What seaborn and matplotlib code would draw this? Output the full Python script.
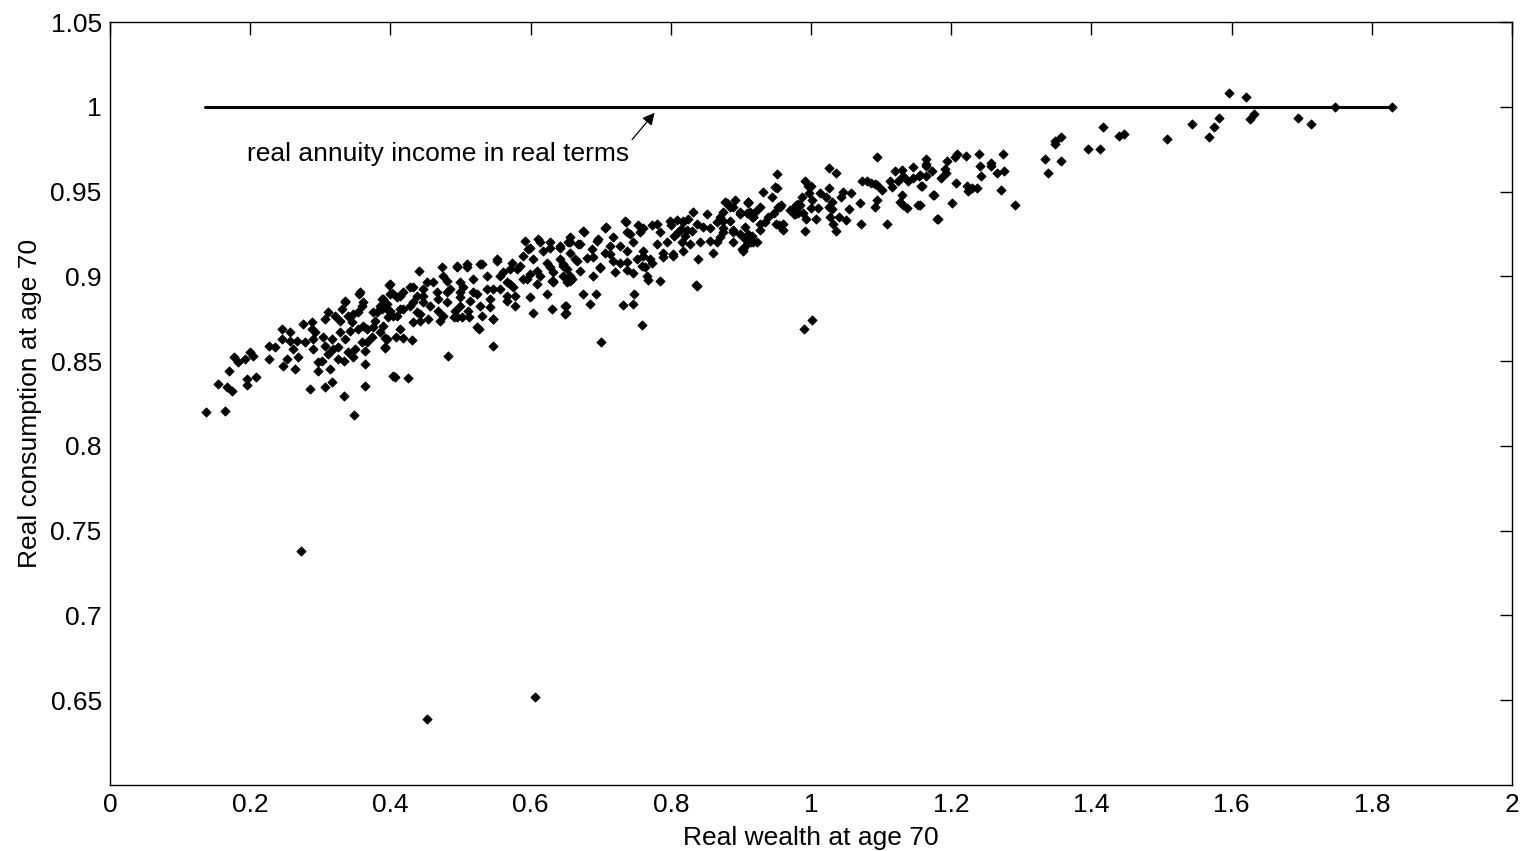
import matplotlib
matplotlib.use("Agg")
import matplotlib.pyplot as plt
import seaborn as sns
import numpy as np
import pandas as pd

# ---- data ----
wealth_a = [0.137,0.164,0.154,0.167,0.174,0.170,0.195,0.195,0.208,0.177,0.183,0.193,0.200,0.204,0.227,0.227,0.235,0.247,0.252,0.261,0.264,0.245,0.245,0.257,0.257,0.267,0.278,0.285,0.268,0.290,0.290,0.307,0.317,0.297,0.302,0.314,0.311,0.307,0.292,0.304,0.317,0.318,0.325,0.325,0.334,0.339,0.346,0.350,0.334,0.348,0.364,0.364,0.288,0.275,0.288,0.311,0.307,0.321,0.331,0.335,0.339,0.354,0.359,0.345,0.354,0.359,0.328,0.335,0.342,0.367,0.375,0.374,0.367,0.378,0.381,0.388,0.397,0.395,0.399,0.398,0.355,0.364,0.297,0.407,0.392,0.395,0.385,0.272]
cons_a = [0.820,0.8206,0.8365,0.8347,0.8324,0.844,0.8394,0.8359,0.8406,0.8524,0.8494,0.8512,0.8553,0.853,0.8512,0.8588,0.8582,0.847,0.8512,0.857,0.8453,0.8688,0.8629,0.867,0.8618,0.8618,0.8612,0.8335,0.8524,0.857,0.8629,0.8347,0.8376,0.8494,0.85,0.8453,0.8541,0.8588,0.867,0.8641,0.8629,0.857,0.8582,0.8512,0.85,0.8553,0.8524,0.857,0.8294,0.8182,0.8482,0.8353,0.8688,0.8718,0.873,0.8788,0.8747,0.8765,0.8806,0.8847,0.8765,0.8788,0.8824,0.873,0.8688,0.8612,0.867,0.8629,0.8676,0.8688,0.87,0.8641,0.8612,0.8735,0.8788,0.8806,0.8759,0.8835,0.8894,0.8947,0.8894,0.8559,0.844,0.8406,0.8582,0.8629,0.867,0.738]

wealth_b = [0.441,0.402,0.392,0.392,0.404,0.425,0.482,0.546,0.526,0.546,0.512,0.491,0.502,0.603,0.631,0.650,0.650,0.578,0.566,0.542,0.531,0.431,0.418,0.408,0.414,0.432,0.442,0.454,0.468,0.475,0.492,0.510,0.499,0.468,0.447,0.438,0.428,0.414,0.404,0.399,0.495,0.509,0.473,0.528,0.552,0.592,0.613,0.596,0.628,0.656,0.656,0.642,0.623,0.603,0.585,0.571,0.556,0.538,0.518,0.499,0.481,0.461,0.447,0.432,0.418,0.409,0.389,0.385,0.481,0.499,0.518,0.538,0.556,0.575,0.595,0.613,0.632,0.652,0.632,0.578,0.599,0.623,0.631,0.566,0.514,0.528,0.542,0.652,0.659,0.452,0.606]
cons_b = [0.903,0.890,0.8576,0.8635,0.841,0.840,0.853,0.859,0.869,0.8747,0.876,0.876,0.876,0.8782,0.8806,0.8824,0.8782,0.8824,0.8853,0.8818,0.8765,0.8624,0.8635,0.8641,0.8688,0.873,0.8776,0.8747,0.8794,0.8765,0.8794,0.8794,0.8824,0.8865,0.8847,0.8882,0.8824,0.8806,0.8765,0.8794,0.9053,0.9053,0.9053,0.907,0.9088,0.9206,0.920,0.9159,0.917,0.920,0.914,0.910,0.908,0.910,0.9059,0.9041,0.900,0.900,0.8982,0.8965,0.897,0.8965,0.8923,0.894,0.8906,0.8876,0.8865,0.8824,0.8906,0.8906,0.8906,0.8923,0.8923,0.894,0.8982,0.900,0.9023,0.9041,0.8965,0.8882,0.8876,0.8894,0.897,0.8965,0.8853,0.8824,0.8865,0.8965,0.8982,0.639,0.652]

wealth_c = [0.880,0.884,0.910,0.917,0.910,0.914,0.903,0.860,0.839,0.836,0.785,0.770,0.773,0.753,0.736,0.708,0.676,0.656,0.832,0.852,0.809,0.810,0.823,0.803,0.817,0.789,0.760,0.752,0.773,0.767,0.759,0.746,0.737,0.728,0.718,0.713,0.706,0.699,0.689,0.693,0.685,0.675,0.748,0.746,0.732,0.759,0.700,0.649,0.649,0.656,0.670,0.680,0.663,0.646,0.642,0.646,0.653,0.668,0.688,0.696,0.728,0.746,0.737,0.756,0.785,0.795,0.780,0.817,0.830,0.846,0.866,0.874,0.889,0.842,0.866,0.889,0.816,0.800,0.815,0.825,0.820,0.805]
cons_c = [0.9435,0.941,0.9435,0.935,0.9247,0.920,0.916,0.914,0.910,0.8947,0.897,0.910,0.930,0.930,0.932,0.929,0.926,0.923,0.938,0.9365,0.9335,0.926,0.9276,0.912,0.9147,0.914,0.912,0.910,0.908,0.898,0.906,0.902,0.904,0.908,0.909,0.918,0.914,0.905,0.900,0.8894,0.8835,0.8894,0.8894,0.8835,0.883,0.8712,0.861,0.8824,0.878,0.897,0.903,0.911,0.910,0.906,0.918,0.900,0.920,0.919,0.916,0.922,0.918,0.920,0.926,0.926,0.926,0.920,0.919,0.932,0.9265,0.929,0.932,0.926,0.9276,0.920,0.920,0.920,0.920,0.930,0.928,0.934,0.924,0.924]

wealth_d = [0.951,1.026,1.036,0.991,0.996,1.000,0.997,1.026,1.013,0.987,1.001,0.984,0.979,0.973,0.976,0.981,0.989,1.000,1.010,1.007,0.993,0.991,1.021,1.026,1.030,1.030,1.027,1.040,1.031,1.036,1.050,1.054,1.046,1.057,1.043,1.070,1.071,1.073,1.080,1.086,1.091,1.094,1.101,1.094,1.091,1.108,1.113,1.116,1.120,1.130,1.124,1.131,1.146,1.138,1.146,1.154,1.158,1.164,1.173,1.175,1.180,1.130,1.127,1.131,1.137,1.153,0.951,0.944,0.932,0.927,0.957,0.953,0.947,0.939,0.934,0.927,0.927,0.950,0.954,0.960,0.910,0.920,0.909,0.916,0.899,0.906,0.916,0.909,0.923,0.903,0.899,1.094,0.990,1.001]
cons_d = [0.9606,0.964,0.961,0.9565,0.9535,0.9535,0.949,0.952,0.949,0.9465,0.945,0.942,0.942,0.939,0.9365,0.9375,0.9375,0.9405,0.9405,0.934,0.934,0.9265,0.9465,0.941,0.944,0.9395,0.935,0.935,0.9306,0.927,0.933,0.9395,0.950,0.949,0.9465,0.9435,0.9306,0.956,0.9565,0.955,0.9547,0.954,0.951,0.945,0.941,0.9306,0.956,0.9524,0.962,0.963,0.9565,0.959,0.9647,0.9565,0.958,0.959,0.953,0.966,0.962,0.948,0.934,0.948,0.944,0.942,0.9405,0.942,0.952,0.9465,0.950,0.941,0.942,0.941,0.9376,0.935,0.932,0.9306,0.9276,0.931,0.930,0.9276,0.944,0.938,0.9376,0.935,0.938,0.929,0.9235,0.919,0.920,0.915,0.9247,0.9706,0.869,0.874]

wealth_e = [1.395,1.412,1.357,1.348,1.348,1.334,1.357,1.338,1.291,1.274,1.275,1.271,1.265,1.257,1.257,1.240,1.241,1.243,1.221,1.208,1.205,1.194,1.191,1.193,1.185,1.164,1.164,1.164,1.156,1.157,1.207,1.222,1.224,1.229,1.237,1.174,1.201,1.181,1.156,1.417,1.439,1.447,1.508,1.543,1.568,1.575,1.582,1.596,1.620,1.626,1.632,1.695,1.713,1.747,1.829]
cons_e = [0.975,0.975,0.982,0.980,0.978,0.969,0.968,0.961,0.942,0.972,0.962,0.951,0.961,0.967,0.965,0.972,0.965,0.959,0.971,0.972,0.9705,0.968,0.9635,0.961,0.958,0.969,0.965,0.959,0.960,0.953,0.955,0.9535,0.9505,0.952,0.952,0.948,0.9435,0.934,0.942,0.988,0.983,0.984,0.981,0.990,0.982,0.988,0.9935,1.008,1.006,0.993,0.996,0.9935,0.990,1.000,1.000]

# extra points of the dense core
wealth_f = [0.399,0.357,0.335,0.361,0.388,0.414,0.428,0.452,0.475,0.495,0.509,0.531,0.552,0.573,0.589,0.560,0.504,0.485,0.466,0.447,0.432,0.418,0.395,0.375,0.347,0.328,0.409,0.438,0.456,0.481,0.499,0.524,0.546,0.571,0.589,0.581,0.566,0.546,0.524,0.495,0.471,0.442,0.389,0.361,
            0.735,0.706,0.675,0.628,0.611,0.599,0.618,0.642,0.670,0.695,0.718,0.742,0.761,0.780,0.799,0.817,0.837,0.856,0.874,0.856,0.827,0.803,0.789,0.761,0.737,0.713,0.689,0.666,0.646,0.628,0.609,0.599,0.699,0.720,0.763,0.737,0.766,0.837,0.656,0.632,0.609,
            0.949,0.910,0.892,0.877,0.874,0.889,0.899,0.913,0.917,0.884,0.870,0.874,0.889,0.870,0.956,0.970,0.977,0.981,0.960,0.906,0.917,0.902]
cons_f = [0.8953,0.8906,0.8853,0.8847,0.8865,0.8882,0.894,0.8965,0.900,0.906,0.907,0.907,0.910,0.908,0.9118,0.9024,0.894,0.8924,0.8906,0.8882,0.8847,0.8806,0.8806,0.8788,0.8776,0.8735,0.8765,0.8788,0.8824,0.8847,0.8876,0.8894,0.8924,0.8953,0.8982,0.9041,0.8882,0.8747,0.870,0.876,0.8735,0.8735,0.8706,0.8706,
          0.9324,0.9288,0.9265,0.920,0.9218,0.917,0.9147,0.917,0.9188,0.9206,0.923,0.9247,0.9288,0.9306,0.9324,0.9324,0.9306,0.9288,0.9324,0.9206,0.9188,0.913,0.9112,0.9147,0.9147,0.913,0.9112,0.9088,0.907,0.9053,0.903,0.9012,0.9053,0.9024,0.9053,0.9082,0.900,0.8941,0.900,0.897,0.8953,
          0.9524,0.944,0.9453,0.9441,0.9382,0.9406,0.9365,0.9382,0.9347,0.9324,0.9347,0.9288,0.9259,0.923,0.9406,0.9394,0.9365,0.9424,0.9306,0.9218,0.920,0.9159]

annuity_x = [0.135, 1.83]
annuity_y = [1.0, 1.0]

x_ticks = [0, 0.2, 0.4, 0.6, 0.8, 1.0, 1.2, 1.4, 1.6, 1.8, 2.0]
x_labels = ["0", "0.2", "0.4", "0.6", "0.8", "1", "1.2", "1.4", "1.6", "1.8", "2"]
y_ticks = [0.65, 0.70, 0.75, 0.80, 0.85, 0.90, 0.95, 1.00, 1.05]
y_labels = ["0.65", "0.7", "0.75", "0.8", "0.85", "0.9", "0.95", "1", "1.05"]

df = pd.DataFrame({
    "wealth": wealth_a + wealth_b + wealth_c + wealth_d + wealth_e + wealth_f,
    "consumption": cons_a + cons_b + cons_c + cons_d + cons_e + cons_f,
})
line_df = pd.DataFrame({"x": annuity_x, "y": annuity_y})

sns.set_theme(style="white")
plt.rcParams["font.family"] = ["Liberation Sans", "DejaVu Sans"]
plt.rcParams["text.color"] = "black"
plt.rcParams["axes.labelcolor"] = "black"
plt.rcParams["xtick.color"] = "black"
plt.rcParams["ytick.color"] = "black"

fig = plt.figure(figsize=(15.23, 8.51), dpi=100)
ax = fig.add_axes([110/1523, 1-785/851, (1512-110)/1523, (785-22)/851])

sns.lineplot(data=line_df, x="x", y="y", ax=ax, color="black", linewidth=2.2)
sns.scatterplot(data=df, x="wealth", y="consumption", ax=ax, marker="D",
                s=22, color="black", edgecolor="black", linewidth=0.6)

ax.annotate("real annuity income in real terms", xy=(0.777, 0.9965),
            xytext=(0.195, 0.972), fontsize=19, va="center", ha="left",
            color="black",
            arrowprops=dict(arrowstyle="-|>", color="black", lw=0.9,
                            mutation_scale=18, shrinkA=0, shrinkB=0,
                            relpos=(1.0, 0.95)))

ax.set_xlim(0, 2)
ax.set_ylim(0.6, 1.05)
ax.set_xticks(x_ticks)
ax.set_xticklabels(x_labels)
ax.set_yticks(y_ticks)
ax.set_yticklabels(y_labels)
ax.tick_params(direction="in", length=9, width=1, top=True, right=True,
               labelsize=19, colors="black", pad=6)
for sp in ax.spines.values():
    sp.set_visible(True)
    sp.set_color("black")
    sp.set_linewidth(1)
ax.set_xlabel("Real wealth at age 70", fontsize=19, labelpad=6, color="black")
ax.set_ylabel("Real consumption at age 70", fontsize=19, labelpad=6, color="black")

fig.savefig("out.png", dpi=100, facecolor="white")
